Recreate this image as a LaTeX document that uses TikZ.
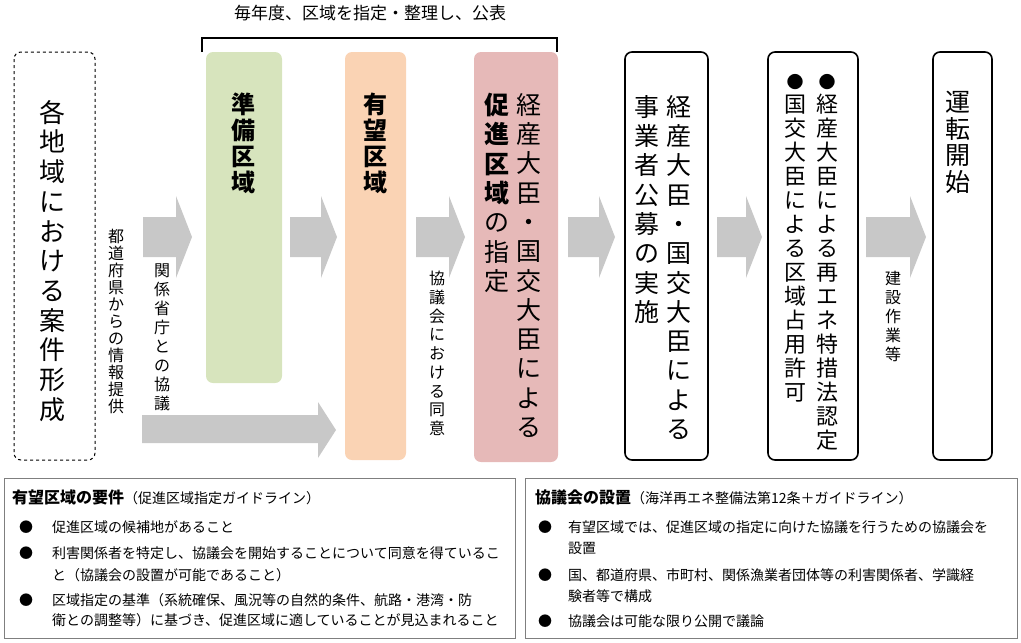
\documentclass[tikz,border=0pt]{standalone}
\usepackage{fontspec}
\setmainfont{Noto Sans CJK JP}
\definecolor{agray}{HTML}{C8C8C8}
\definecolor{gfill}{HTML}{D7E4BD}
\definecolor{ofill}{HTML}{FAD3B4}
\definecolor{pfill}{HTML}{E6B9B8}
\definecolor{bgray}{HTML}{7F7F7F}
\tikzset{
  vert/.style={anchor=north, align=center, inner sep=0pt},
  stagebox/.style={rounded corners=7pt},
  blkbox/.style={draw=black, line width=1.6pt, rounded corners=7pt},
  infobox/.style={draw=bgray, line width=1pt},
  ln/.style={anchor=west, inner sep=0pt, font=\fontsize{14}{16}\selectfont},
}
\newcommand\bigarr[3]{\fill[agray] (#1,#3-20) -- (#2-16,#3-20) -- (#2-16,#3-41) -- (#2,#3) -- (#2-16,#3+41) -- (#2-16,#3+20) -- (#1,#3+20) -- cycle;}
\newcommand\dotmark{{\fontsize{17}{24}\selectfont ●}}
\begin{document}
\begin{tikzpicture}[x=1pt,y=-1pt]
\useasboundingbox (0,0) rectangle (1021,643);
% top bracket
\node (top) at (370,13) {\fontsize{17}{20}\selectfont 毎年度、区域を指定・整理し、公表};
\draw[line width=1.4pt] (202,52) -- (202,38) -- (557,38) -- (557,52);
% boxes
\draw[dashed, line width=1pt, rounded corners=7pt] (14,52) rectangle (95,460);
\fill[gfill, stagebox] (206,52) rectangle (282,383);
\fill[ofill, stagebox] (345,52) rectangle (406,460);
\fill[pfill, stagebox] (474,52) rectangle (558,462);
\draw[blkbox] (625,52) rectangle (708,460);
\draw[blkbox] (768,52) rectangle (858,460);
\draw[blkbox] (933,52) rectangle (992,460);
% arrows
\bigarr{143}{192}{237}
\bigarr{290}{337}{237}
\bigarr{416}{465}{237}
\bigarr{568}{615}{237}
\bigarr{717}{762}{237}
\bigarr{866}{926}{237}
\fill[agray] (142,415) -- (318,415) -- (318,402) -- (336,430) -- (318,458) -- (318,443) -- (142,443) -- cycle;
% vertical texts
\node[vert, font=\fontsize{26}{29.7}\selectfont] (t1) at (52,100) {各\\地\\域\\に\\お\\け\\る\\案\\件\\形\\成};
\node[vert, font=\fontsize{16}{17}\selectfont] (l1) at (116,229) {都\\道\\府\\県\\か\\ら\\の\\情\\報\\提\\供};
\node[vert, font=\fontsize{16}{19}\selectfont] (l2) at (162,264) {関\\係\\省\\庁\\と\\の\\協\\議};
\node[vert, font=\fontsize{24}{26}\selectfont\bfseries] (t2) at (243,93) {準\\備\\区\\域};
\node[vert, font=\fontsize{24}{26}\selectfont\bfseries] (t3) at (375,93) {有\\望\\区\\域};
\node[vert, font=\fontsize{16}{18.75}\selectfont] (l3) at (437,271) {協\\議\\会\\に\\お\\け\\る\\同\\意};
\node[vert, font=\fontsize{25}{29.3}\selectfont] (t4a) at (529,93) {経\\産\\大\\臣\\・\\国\\交\\大\\臣\\に\\よ\\る};
\node[vert, font=\fontsize{25}{29.3}\selectfont] (t4b) at (497,93) {\textbf{促}\\\textbf{進}\\\textbf{区}\\\textbf{域}\\の\\指\\定};
\node[vert, font=\fontsize{25}{29.3}\selectfont] (t5a) at (679,95) {経\\産\\大\\臣\\・\\国\\交\\大\\臣\\に\\よ\\る};
\node[vert, font=\fontsize{25}{29.3}\selectfont] (t5b) at (647,95) {事\\業\\者\\公\\募\\の\\実\\施};
\node[vert, font=\fontsize{22}{24}\selectfont] (t6a) at (827,74) {\dotmark\\経\\産\\大\\臣\\に\\よ\\る\\再\\エ\\ネ\\特\\措\\法\\認\\定};
\node[vert, font=\fontsize{22}{24}\selectfont] (t6b) at (795,74) {\dotmark\\国\\交\\大\\臣\\に\\よ\\る\\区\\域\\占\\用\\許\\可};
\node[vert, font=\fontsize{16}{19}\selectfont] (l4) at (893,271) {建\\設\\作\\業\\等};
\node[vert, font=\fontsize{25}{26.7}\selectfont] (t7) at (958,91) {運\\転\\開\\始};
% bottom boxes
\draw[infobox] (4,478) rectangle (515,638);
\draw[infobox] (525,478) rectangle (1017,638);
\node[ln] (a0) at (12,497) {\fontsize{16}{18}\selectfont\textbf{有望区域の要件}\fontsize{14}{16}\selectfont （促進区域指定ガイドライン）};
\node[ln] (a1b) at (19,527) {●};
\node[ln] (a1) at (52,527) {促進区域の候補地があること};
\node[ln] (a2b) at (19,553) {●};
\node[ln] (a2) at (52,553) {利害関係者を特定し、協議会を開始することについて同意を得ているこ};
\node[ln] (a2c) at (52,575) {と（協議会の設置が可能であること）};
\node[ln] (a3b) at (19,600) {●};
\node[ln] (a3) at (52,600) {区域指定の基準（系統確保、風況等の自然的条件、航路・港湾・防};
\node[ln] (a3c) at (52,620) {衛との調整等）に基づき、促進区域に適していることが見込まれること};
\node[ln] (b0) at (535,497) {\fontsize{16}{18}\selectfont\textbf{協議会の設置}\fontsize{14}{16}\selectfont （海洋再エネ整備法第12条＋ガイドライン）};
\node[ln] (b1b) at (538,527) {●};
\node[ln] (b1) at (568,527) {有望区域では、促進区域の指定に向けた協議を行うための協議会を};
\node[ln] (b1c) at (568,548) {設置};
\node[ln] (b2b) at (538,575) {●};
\node[ln] (b2) at (568,575) {国、都道府県、市町村、関係漁業者団体等の利害関係者、学識経};
\node[ln] (b2c) at (568,596) {験者等で構成};
\node[ln] (b3b) at (538,621) {●};
\node[ln] (b3) at (568,621) {協議会は可能な限り公開で議論};
\end{tikzpicture}
\end{document}
